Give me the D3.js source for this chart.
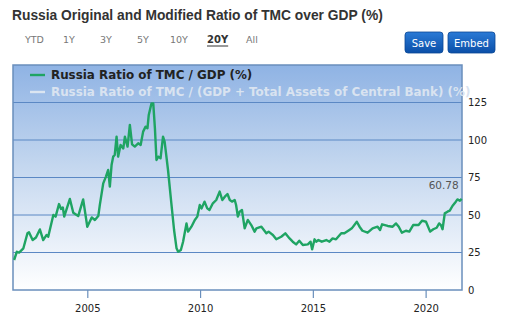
<!DOCTYPE html>
<html><head><meta charset="utf-8">
<script src="https://cdn.jsdelivr.net/npm/d3@7"></script>
<style>
html,body{margin:0;padding:0;background:#fff;}
svg{display:block;}
</style></head>
<body>
<svg id="chart" width="532" height="325"></svg>
<script>
const title = "Russia Original and Modified Ratio of TMC over GDP (%)";
const rangeLabels = ["YTD", "1Y", "3Y", "5Y", "10Y", "20Y", "All"];
const activeRange = "20Y";
const buttons = ["Save", "Embed"];
const seriesNames = ["Russia Ratio of TMC / GDP (%)", "Russia Ratio of TMC / (GDP + Total Assets of Central Bank) (%)"];
const yTicks = [0, 25, 50, 75, 100, 125];
const xTickYears = [2005, 2010, 2015, 2020];
const dates = [
"2001-10-04","2001-11-17","2001-12-24","2002-03-03","2002-05-08","2002-06-02","2002-07-31","2002-09-23","2002-11-25",
"2003-01-18","2003-03-14","2003-04-09","2003-07-01","2003-08-07","2003-10-01","2003-11-03","2003-12-02","2003-12-24",
"2004-03-25","2004-05-19","2004-08-07","2004-10-26","2005-01-01","2005-03-14","2005-05-04","2005-06-28","2005-07-23",
"2005-09-16","2005-10-30","2005-12-05","2006-01-01","2006-01-29","2006-02-24","2006-03-21","2006-04-20","2006-05-15",
"2006-06-24","2006-08-07","2006-09-02","2006-10-15","2006-11-21","2006-12-27","2007-02-09","2007-04-05","2007-05-15",
"2007-06-24","2007-08-03","2007-09-02","2007-09-23","2007-11-06","2007-12-05","2008-01-01","2008-01-26","2008-02-24",
"2008-04-01","2008-05-11","2008-06-06","2008-07-31","2008-09-23","2008-11-06","2008-12-16","2009-01-11","2009-02-24",
"2009-04-01","2009-05-26","2009-06-21","2009-08-14","2009-10-08","2009-11-17","2009-12-27","2010-01-26","2010-03-14",
"2010-04-27","2010-06-02","2010-07-27","2010-09-20","2010-11-14","2010-12-27","2011-02-06","2011-03-21","2011-04-27",
"2011-06-02","2011-07-16","2011-08-07","2011-09-05","2011-10-04","2011-11-10","2011-12-24","2012-02-13","2012-04-09",
"2012-06-02","2012-07-01","2012-09-20","2012-12-09","2013-01-15","2013-03-25","2013-05-19","2013-08-07","2013-10-12",
"2013-12-20","2014-02-09","2014-04-05","2014-05-26","2014-07-23","2014-10-12","2014-11-25","2014-12-20","2015-01-29",
"2015-02-24","2015-04-01","2015-05-26","2015-08-07","2015-09-27","2015-11-17","2016-01-11","2016-04-05","2016-05-26",
"2016-08-14","2016-09-23","2016-12-13","2017-01-26","2017-03-14","2017-06-06","2017-08-25","2017-11-14","2017-12-24",
"2018-01-26","2018-04-27","2018-07-16","2018-09-09","2018-10-23","2018-12-13","2019-02-16","2019-04-12","2019-06-13",
"2019-09-09","2019-11-03","2020-01-07","2020-03-14","2020-05-04","2020-06-28","2020-08-07","2020-09-05","2020-10-01",
"2020-11-06","2020-12-20","2021-01-26","2021-03-10","2021-05-04","2021-05-30","2021-07-09","2021-08-07"
];
const ratio = [
20.0,25.5,24.9,27.8,37.8,38.5,33.3,35.0,40.4,
33.3,36.7,35.5,50.0,48.9,57.3,54.0,55.0,48.9,
60.7,51.5,49.3,60.4,42.2,48.4,46.7,49.3,56.7,
71.1,75.6,80.0,68.9,83.3,88.9,90.0,102.2,88.9,
96.7,94.4,102.2,95.6,110.0,97.1,95.6,97.8,96.7,
105.6,108.9,107.8,116.7,124.4,124.4,107.8,86.7,88.9,
87.8,102.2,98.9,80.0,57.8,40.0,27.8,25.5,26.7,
32.2,44.4,38.9,42.2,46.7,48.9,56.7,54.4,58.9,
54.4,53.3,57.8,60.0,65.6,60.0,62.2,64.0,60.0,
58.9,60.0,56.7,48.9,52.2,53.3,41.1,46.7,43.3,
38.9,41.1,42.2,37.8,38.9,36.7,33.8,35.5,37.8,
34.4,32.2,30.4,32.9,30.0,30.4,32.2,27.1,33.8,
32.2,33.3,32.2,33.3,32.2,34.4,33.8,37.8,37.8,
40.0,41.1,45.5,42.2,39.5,38.2,41.1,42.2,40.0,
43.8,42.7,42.2,44.4,42.2,38.2,39.5,38.9,43.3,
43.3,46.2,45.5,38.9,40.5,41.5,44.4,43.3,40.5,
51.1,52.2,52.9,56.0,58.9,60.4,59.5,60.78
];
const lastLabel = "60.78";

const parse = d3.timeParse("%Y-%m-%d");
const data = dates.map((d, i) => ({date: parse(d), value: ratio[i]}));

const svg = d3.select("#chart");
const L = 13, R = 462, T = 65, B = 290;

const x = d3.scaleTime().domain([parse("2001-09-16"), parse("2021-08-12")]).range([L, R]);
const y = d3.scaleLinear().domain([0, 150]).range([B, T]);

// title
svg.append("text").attr("x", 12).attr("y", 20)
  .attr("font-family", "Liberation Sans, Arial, sans-serif").attr("font-weight", "bold")
  .attr("font-size", 13.8).attr("fill", "#333").text(title);

// range selector
const rangeX = [25, 63, 100, 137, 170, 207, 246];
rangeLabels.forEach((t, i) => {
  const a = t === activeRange;
  const tx = svg.append("text").attr("x", rangeX[i]).attr("y", 43)
    .attr("font-family", "DejaVu Sans, Verdana, sans-serif")
    .attr("font-size", a ? 10 : 9.5).attr("font-weight", a ? "bold" : "normal")
    .attr("fill", a ? "#333" : "#777").text(t);
  if (a) {
    const w = tx.node().getComputedTextLength();
    svg.append("line").attr("x1", rangeX[i]).attr("x2", rangeX[i] + w)
      .attr("y1", 46).attr("y2", 46).attr("stroke", "#333").attr("stroke-width", 1);
  }
});

// buttons
const defs = svg.append("defs");
const bg = defs.append("linearGradient").attr("id", "btn").attr("x1", 0).attr("x2", 0).attr("y1", 0).attr("y2", 1);
bg.append("stop").attr("offset", "0%").attr("stop-color", "#2a7ad6");
bg.append("stop").attr("offset", "100%").attr("stop-color", "#0b4fa8");
const btnX = [405, 448], btnW = [38, 47];
buttons.forEach((b, i) => {
  svg.append("rect").attr("x", btnX[i]).attr("y", 32).attr("width", btnW[i]).attr("height", 21)
    .attr("rx", 3).attr("fill", "url(#btn)").attr("stroke", "#0a4796").attr("stroke-width", 0.8);
  svg.append("text").attr("x", btnX[i] + btnW[i] / 2).attr("y", 46.5).attr("text-anchor", "middle")
    .attr("font-family", "DejaVu Sans, Verdana, sans-serif").attr("font-size", 10)
    .attr("fill", "#fff").text(b);
});

// plot background
const pg = defs.append("linearGradient").attr("id", "plotbg").attr("x1", 0).attr("x2", 0).attr("y1", 0).attr("y2", 1);
pg.append("stop").attr("offset", "0%").attr("stop-color", "#8fb3e4");
pg.append("stop").attr("offset", "45%").attr("stop-color", "#c4d7ef");
pg.append("stop").attr("offset", "100%").attr("stop-color", "#ffffff");
svg.append("rect").attr("x", L).attr("y", T).attr("width", R - L).attr("height", B - T).attr("fill", "url(#plotbg)");

// grid
svg.append("g").selectAll("line").data(yTicks.filter(v => v > 0)).join("line")
  .attr("x1", L).attr("x2", R).attr("y1", d => y(d)).attr("y2", d => y(d))
  .attr("stroke", "#5b88c4").attr("stroke-width", 1);

// border
svg.append("rect").attr("x", L).attr("y", T).attr("width", R - L).attr("height", B - T)
  .attr("fill", "none").attr("stroke", "#6a8fbc").attr("stroke-width", 1.5);

// y axis right
const yAxis = d3.axisRight(y).tickValues(yTicks).tickSize(0).tickPadding(6);
const gy = svg.append("g").attr("transform", `translate(${R},0)`).call(yAxis);
gy.select(".domain").remove();
gy.selectAll("text").attr("font-family", "DejaVu Sans, Verdana, sans-serif").attr("font-size", 10).attr("fill", "#222");

// x axis
const xAxis = d3.axisBottom(x).tickValues(xTickYears.map(yr => new Date(yr, 0, 1)))
  .tickFormat(d3.timeFormat("%Y")).tickSize(8).tickPadding(7);
const gx = svg.append("g").attr("transform", `translate(0,${B})`).call(xAxis);
gx.select(".domain").remove();
gx.selectAll("line").attr("stroke", "#6a8fbc").attr("stroke-width", 1.2);
gx.selectAll("text").attr("font-family", "DejaVu Sans, Verdana, sans-serif").attr("font-size", 10).attr("fill", "#222");

// line
const line = d3.line().x(d => x(d.date)).y(d => y(d.value)).curve(d3.curveLinear);
svg.append("path").datum(data).attr("d", line).attr("fill", "none")
  .attr("stroke", "#1fa463").attr("stroke-width", 2.4).attr("stroke-linejoin", "round");

// last label
const last = data[data.length - 1];
svg.append("text").attr("x", x(last.date) - 3).attr("y", y(last.value) - 10).attr("text-anchor", "end")
  .attr("font-family", "DejaVu Sans, Verdana, sans-serif").attr("font-size", 10.5).attr("fill", "#555").text(lastLabel);

// legend
const legColors = ["#1fa463", "#dbe5f1"];
const legText = ["#222", "#d9e3f0"];
seriesNames.forEach((n, i) => {
  const ly = 75 + i * 17;
  svg.append("line").attr("x1", 30).attr("x2", 45).attr("y1", ly).attr("y2", ly)
    .attr("stroke", legColors[i]).attr("stroke-width", 2.4);
  svg.append("text").attr("x", 51).attr("y", ly + 4)
    .attr("font-family", "DejaVu Sans, Verdana, sans-serif").attr("font-weight", "bold")
    .attr("font-size", 11.9).attr("fill", legText[i]).text(n);
});
</script>
</body></html>
